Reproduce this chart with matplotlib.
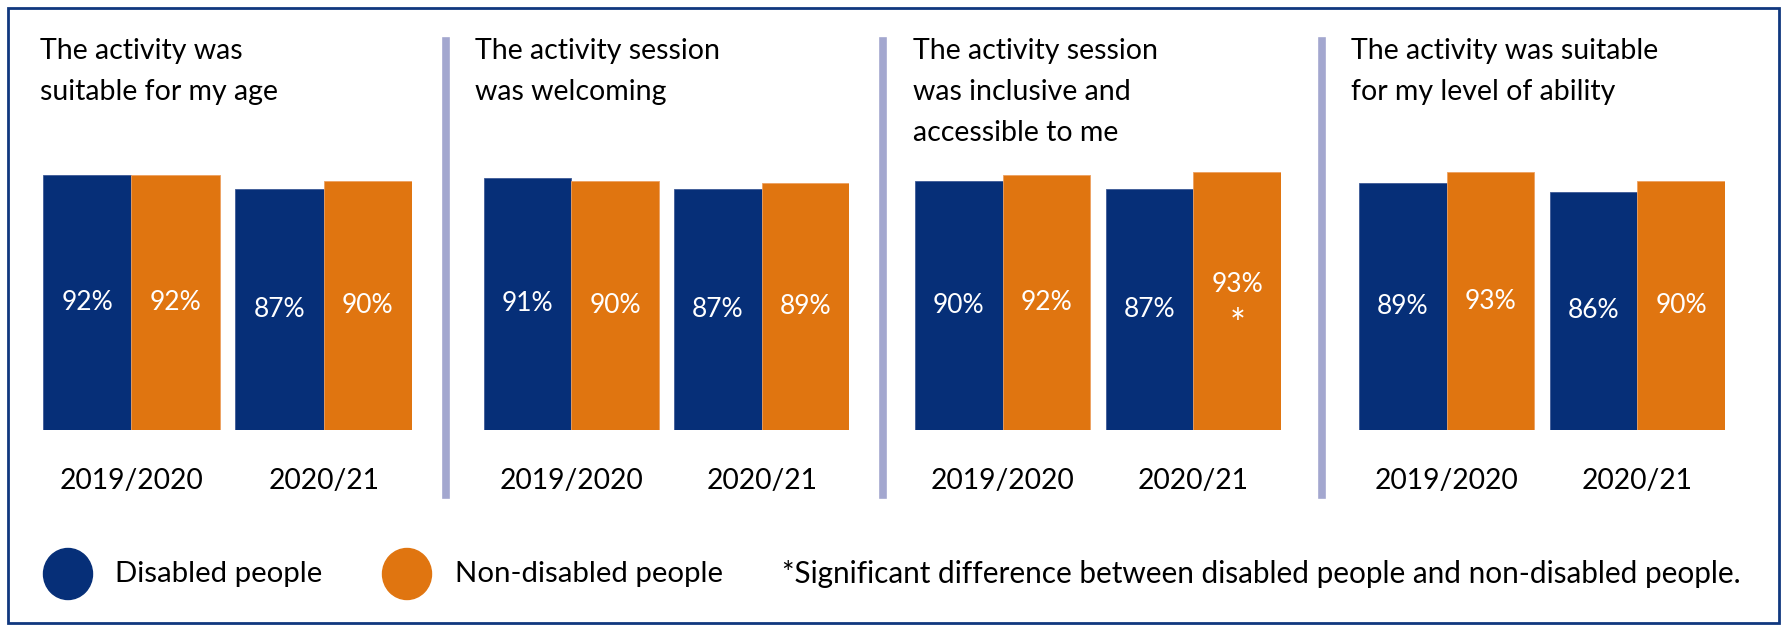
import matplotlib.pyplot as plt
from matplotlib.patches import Rectangle, Ellipse

plt.rcParams['font.family'] = ['Lato', 'DejaVu Sans']

# Data
titles = [
    "The activity was\nsuitable for my age",
    "The activity session\nwas welcoming",
    "The activity session\nwas inclusive and\naccessible to me",
    "The activity was suitable\nfor my level of ability",
]
years = ["2019/2020", "2020/21"]
disabled = [[92, 87], [91, 87], [90, 87], [89, 86]]
non_disabled = [[92, 90], [90, 89], [92, 93], [93, 90]]
significant = [[False, False], [False, False], [False, True], [False, False]]

BLUE = "#062f78"
ORANGE = "#e07510"
SEP = "#a3a7cf"

W, H = 1783, 631
fig = plt.figure(figsize=(W / 100, H / 100), dpi=100)

def fx(px):
    return px / W

def fy(py):
    return 1 - py / H

# outer frame
fig.patches.append(Rectangle((fx(8), fy(623)), fx(1771), 615 / H, transform=fig.transFigure,
                             fill=False, edgecolor="#10387f", linewidth=2))

panel_left = [43, 484, 915, 1359]
panel_right = [412, 849, 1281, 1725]
title_x = [40, 475, 913, 1351]
sep_x = [446, 883, 1322]

bar_w = 1.0
group_x = [0.0, 2.18]

for i in range(4):
    ax = fig.add_axes([fx(panel_left[i]), fy(430), fx(panel_right[i] - panel_left[i]), (430 - 153) / H])
    for g in range(2):
        x0 = group_x[g]
        d = disabled[i][g]
        n = non_disabled[i][g]
        ax.bar(x0 + bar_w / 2, d, width=bar_w, color=BLUE, edgecolor="#3d5a96", linewidth=0.6)
        ax.bar(x0 + 1.5 * bar_w, n, width=bar_w, color=ORANGE, edgecolor="#eda060", linewidth=0.6)
        ax.text(x0 + bar_w / 2, d / 2, f"{d}%", color="white", ha="center", va="center", fontsize=19)
        if significant[i][g]:
            ax.text(x0 + 1.5 * bar_w, n / 2 + 6, f"{n}%", color="white", ha="center", va="center",
                    fontsize=19)
            ax.text(x0 + 1.5 * bar_w, n / 2 - 9, "*", color="white", ha="center", va="center",
                    fontsize=27)
        else:
            ax.text(x0 + 1.5 * bar_w, n / 2, f"{n}%", color="white", ha="center", va="center",
                    fontsize=19)
        ax.text(x0 + bar_w, -18.5, years[g], ha="center", va="center", fontsize=20.3, color="black")
    ax.set_xlim(0, group_x[1] + 2 * bar_w)
    ax.set_ylim(0, 100)
    ax.axis("off")
    fig.text(fx(title_x[i]), fy(38), titles[i], ha="left", va="top", fontsize=20.5,
             linespacing=1.72, color="black")

for x in sep_x:
    fig.add_artist(plt.Line2D([fx(x), fx(x)], [fy(41), fy(495)], color=SEP, linewidth=5.5))

# legend
for cx, label, tx, col in [(68, "Disabled people", 115, BLUE), (407, "Non-disabled people", 455, ORANGE)]:
    fig.patches.append(Ellipse((fx(cx), fy(574)), 49 / W, 51 / H, transform=fig.transFigure, color=col))
    fig.text(fx(tx), fy(574), label, ha="left", va="center", fontsize=21.2)

fig.text(fx(782), fy(574), "*Significant difference between disabled people and non-disabled people.",
         ha="left", va="center", fontsize=21.4)

fig.savefig("out.png", dpi=100, facecolor="white")
